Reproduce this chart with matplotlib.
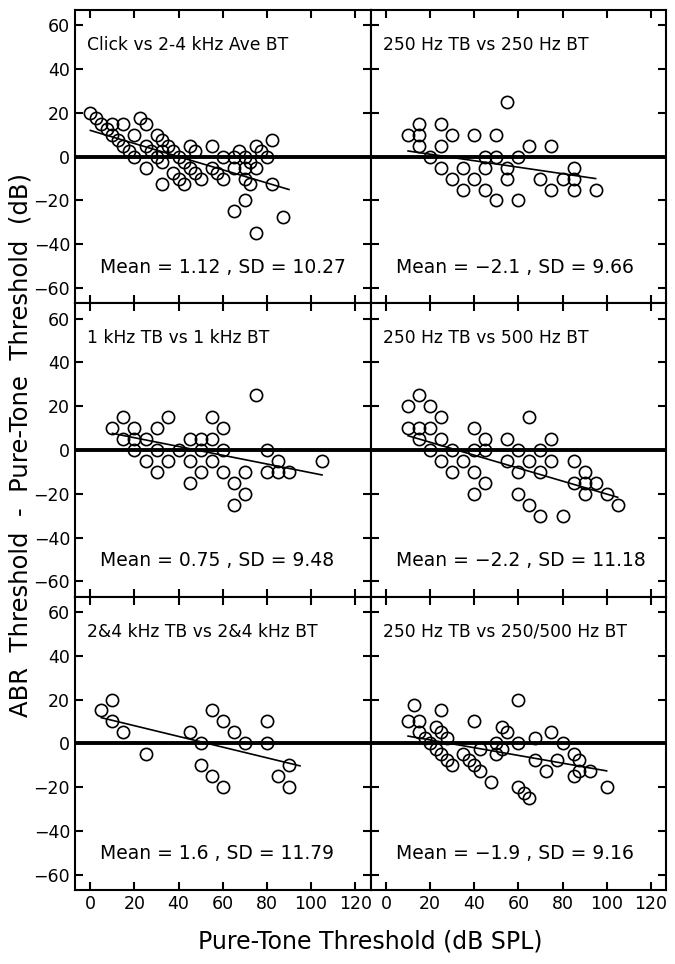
import matplotlib.pyplot as plt
import numpy as np

plt.rcParams['font.family'] = 'DejaVu Sans'

titles = ["Click vs 2-4 kHz Ave BT", "250 Hz TB vs 250 Hz BT",
          "1 kHz TB vs 1 kHz BT", "250 Hz TB vs 500 Hz BT",
          "2&4 kHz TB vs 2&4 kHz BT", "250 Hz TB vs 250/500 Hz BT"]
means = [1.12, -2.1, 0.75, -2.2, 1.6, -1.9]
sds = [10.27, 9.66, 9.48, 11.18, 11.79, 9.16]

# click vs 2-4 kHz average BT
click_x = [0, 2.5, 5, 7.5, 10, 15, 10, 12.5, 15, 17.5, 20, 20, 22.5, 25, 25, 25,
           27.5, 30, 30, 32.5, 32.5, 32.5, 32.5, 35, 37.5, 37.5, 40, 40, 42.5, 42.5,
           45, 45, 47.5, 47.5, 50, 55, 55, 57.5, 60, 60, 65, 65, 65, 67.5, 70, 70,
           70, 70, 72.5, 72.5, 75, 75, 77.5, 80, 82.5, 82.5, 87.5, 75]
click_y = [20, 17.5, 15, 12.5, 15, 15, 10, 7.5, 5, 2.5, 10, 0, 17.5, 15, 5, -5,
           2.5, 10, 0, 7.5, 2.5, -2.5, -12.5, 5, 2.5, -7.5, 0, -10, -2.5, -12.5,
           5, -5, 2.5, -7.5, -10, 5, -5, -7.5, 0, -10, 0, -5, -25, 2.5, 0, -5,
           -10, -20, -2.5, -12.5, 5, -5, 2.5, 0, 7.5, -12.5, -27.5, -35]
click_fit_x = [0, 90]
click_fit_y = [12, -15]

# 250 Hz TB vs 250 Hz BT
tb250_x = [10, 15, 15, 15, 20, 25, 25, 25, 30, 30, 35, 35, 40, 40, 45, 45, 45,
           50, 50, 50, 55, 55, 55, 60, 60, 65, 70, 75, 75, 80, 85, 85, 85, 95]
tb250_y = [10, 15, 10, 5, 0, 15, 5, -5, 10, -10, -5, -15, 10, -10, 0, -5, -15,
           10, 0, -20, 25, -5, -10, 0, -20, 5, -10, 5, -15, -10, -5, -10, -15, -15]
tb250_fit_x = [10, 95]
tb250_fit_y = [2.6, -10]

# 1 kHz TB vs 1 kHz BT
tb1k_x = [10, 15, 15, 20, 20, 20, 25, 25, 30, 30, 30, 35, 35, 40, 45, 45, 45,
          50, 50, 50, 55, 55, 55, 60, 60, 60, 65, 65, 70, 70, 75, 80, 80, 85, 85,
          90, 105]
tb1k_y = [10, 15, 5, 10, 5, 0, 5, -5, 10, 0, -10, 15, -5, 0, 5, -5, -15,
          5, 0, -10, 15, 5, -5, 10, 0, -10, -15, -25, -10, -20, 25, 0, -10, -5, -10,
          -10, -5]
tb1k_fit_x = [10, 105]
tb1k_fit_y = [7.6, -11.4]

# 250 Hz TB vs 500 Hz BT
tb500_x = [10, 10, 15, 15, 15, 20, 20, 20, 25, 25, 25, 30, 30, 35, 40, 40, 40,
           40, 45, 45, 45, 55, 55, 60, 60, 60, 65, 65, 65, 70, 70, 70, 75, 75, 80,
           85, 85, 90, 90, 90, 95, 100, 105]
tb500_y = [20, 10, 25, 10, 5, 20, 10, 0, 15, 5, -5, 0, -10, -5, 10, 0, -10,
           -20, 5, 0, -15, 5, -5, 0, -10, -20, 15, -5, -25, 0, -10, -30, 5, -5, -30,
           -5, -15, -10, -15, -20, -15, -20, -25]
tb500_fit_x = [10, 105]
tb500_fit_y = [6.5, -21.6]

# 2&4 kHz TB vs 2&4 kHz BT
tb24_x = [5, 10, 10, 15, 25, 45, 50, 50, 55, 55, 60, 60, 65, 70, 80, 80, 85, 90, 90]
tb24_y = [15, 20, 10, 5, -5, 5, 0, -10, 15, -15, 10, -20, 5, 0, 10, 0, -15, -10, -20]
tb24_fit_x = [5, 95]
tb24_fit_y = [11.7, -10.3]

# 250 Hz TB vs 250/500 Hz BT
tbavg_x = [10, 12.5, 15, 15, 17.5, 20, 22.5, 25, 22.5, 25, 27.5, 25, 27.5, 30,
           35, 37.5, 40, 40, 42.5, 42.5, 47.5, 50, 50, 52.5, 52.5, 55, 60, 60,
           67.5, 67.5, 72.5, 75, 77.5, 80, 85, 87.5, 87.5, 85, 92.5,
           60, 62.5, 65, 100]
tbavg_y = [10, 17.5, 10, 5, 2.5, 0, -2.5, 15, 7.5, 5, 2.5, -5, -7.5, -10,
           -5, -7.5, 10, -10, -2.5, -12.5, -17.5, 0, -5, 7.5, -2.5, 5, 20, 0,
           2.5, -7.5, -12.5, 5, -7.5, 0, -5, -7.5, -12.5, -15, -12.5,
           -20, -22.5, -25, -20]
tbavg_fit_x = [10, 100]
tbavg_fit_y = [3.3, -12.6]

panels = [(click_x, click_y, click_fit_x, click_fit_y),
          (tb250_x, tb250_y, tb250_fit_x, tb250_fit_y),
          (tb1k_x, tb1k_y, tb1k_fit_x, tb1k_fit_y),
          (tb500_x, tb500_y, tb500_fit_x, tb500_fit_y),
          (tb24_x, tb24_y, tb24_fit_x, tb24_fit_y),
          (tbavg_x, tbavg_y, tbavg_fit_x, tbavg_fit_y)]

fig, axes = plt.subplots(3, 2, figsize=(6.75, 9.64), dpi=100, sharex=True, sharey=True)
fig.subplots_adjust(left=0.111, right=0.987, top=0.9896, bottom=0.0768,
                    hspace=0, wspace=0)

for k, ax in enumerate(axes.flat):
    px, py, fx, fy = panels[k]
    ax.axhline(0, color='black', lw=2.8, zorder=1)
    ax.plot(fx, fy, color='black', lw=1.2, zorder=2)
    ax.plot(px, py, 'o', mfc='none', mec='black', ms=8.8, mew=1.2, zorder=3)
    ax.text(-1.5, 51, titles[k], fontsize=12.3, ha='left', va='center')
    m = str(means[k]).replace('-', '\u2212')
    ax.text(4.5, -50.5, "Mean = %s , SD = %s" % (m, sds[k]), fontsize=13.5,
            ha='left', va='center')
    ax.set_xlim(-7, 127)
    ax.set_ylim(-67, 67)
    ax.set_xticks(np.arange(0, 121, 20))
    ax.set_yticks(np.arange(-60, 61, 20))
    ax.tick_params(direction='in', top=True, right=True, length=6, width=1.5,
                   labelsize=12.5)
    for s in ax.spines.values():
        s.set_linewidth(1.5)

fig.text(0.03, 0.538, "ABR  Threshold  -  Pure-Tone  Threshold  (dB)", rotation=90,
         ha='center', va='center', fontsize=17.5)
fig.text(0.548, 0.023, "Pure-Tone Threshold (dB SPL)", ha='center', va='center',
         fontsize=17)

plt.savefig("out.png", dpi=100)
